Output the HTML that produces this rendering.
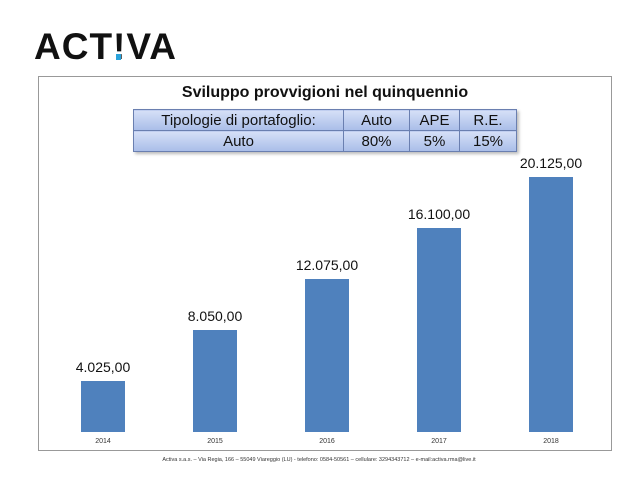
<!DOCTYPE html>
<html><head><meta charset="utf-8"><style>
body{margin:0;width:638px;height:479px;background:#fff;overflow:hidden;font-family:"Liberation Sans",sans-serif;position:relative}
.logo{position:absolute;left:34px;top:26px;font-size:37px;font-weight:bold;letter-spacing:1px;color:#111}
.frame{position:absolute;left:38px;top:76px;width:574px;height:375px;border:1px solid #999;box-sizing:border-box}
.title{position:absolute;left:0;width:650px;top:84px;text-align:center;font-size:16px;font-weight:bold;color:#111}
table{position:absolute;left:133px;top:109px;border-collapse:collapse;font-size:15px;color:#111;box-shadow:2px 2px 3px #bbb}
td{border:1px solid #6a7fb0;text-align:center;height:20px;padding:0;background:linear-gradient(#d6e0f7,#a9bde8)}
.foot{position:absolute;left:0;width:638px;top:457px;text-align:center;font-size:5.5px;color:#333}
</style></head><body>
<div class="logo">ACT<span style="position:relative">!<span style="position:absolute;left:3px;bottom:7px;width:5px;height:6px;background:#2aa3db"></span></span>VA</div>
<div class="frame"></div>
<div class="title">Sviluppo provvigioni nel quinquennio</div>
<table>
<tr><td style="width:209px">Tipologie di portafoglio:</td><td style="width:65px">Auto</td><td style="width:49px">APE</td><td style="width:56px">R.E.</td></tr>
<tr><td>Auto</td><td>80%</td><td>5%</td><td>15%</td></tr>
</table>
<svg id="chart" width="638" height="479" style="position:absolute;left:0;top:0"></svg>
<div class="foot">Activa s.a.s. – Via Regia, 166 – 55049 Viareggio (LU) - telefono: 0584-50561 – cellulare: 3294343712 – e-mail:activa.rma@live.it</div>
<script>
const categories=["2014","2015","2016","2017","2018"];
const values=[4025,8050,12075,16100,20125];
const labels=["4.025,00","8.050,00","12.075,00","16.100,00","20.125,00"];
const svg=document.getElementById('chart');
const NS="http://www.w3.org/2000/svg";
const baseY=432,plotH=255,maxV=20125,x0=103,step=112,bw=44;
const y=v=>baseY-v/maxV*plotH;
const x=i=>x0+i*step;
categories.forEach((c,i)=>{
 const r=document.createElementNS(NS,'rect');
 r.setAttribute('x',x(i)-bw/2);r.setAttribute('y',y(values[i]));
 r.setAttribute('width',bw);r.setAttribute('height',baseY-y(values[i]));
 r.setAttribute('fill','#4f81bd');
 
 
 svg.appendChild(r);
 const t=document.createElementNS(NS,'text');
 t.setAttribute('x',x(i));t.setAttribute('y',y(values[i])-9);
 t.setAttribute('text-anchor','middle');t.setAttribute('font-size','14');
 t.setAttribute('font-family','Liberation Sans, sans-serif');t.setAttribute('fill','#111');
 t.textContent=labels[i];
 
 
 svg.appendChild(t);
 const a=document.createElementNS(NS,'text');
 a.setAttribute('x',x(i));a.setAttribute('y',baseY+11);
 a.setAttribute('text-anchor','middle');a.setAttribute('font-size','7');
 a.setAttribute('font-family','Liberation Sans, sans-serif');a.setAttribute('fill','#333');
 a.textContent=c;
 
 
 svg.appendChild(a);
});
</script>
</body></html>
